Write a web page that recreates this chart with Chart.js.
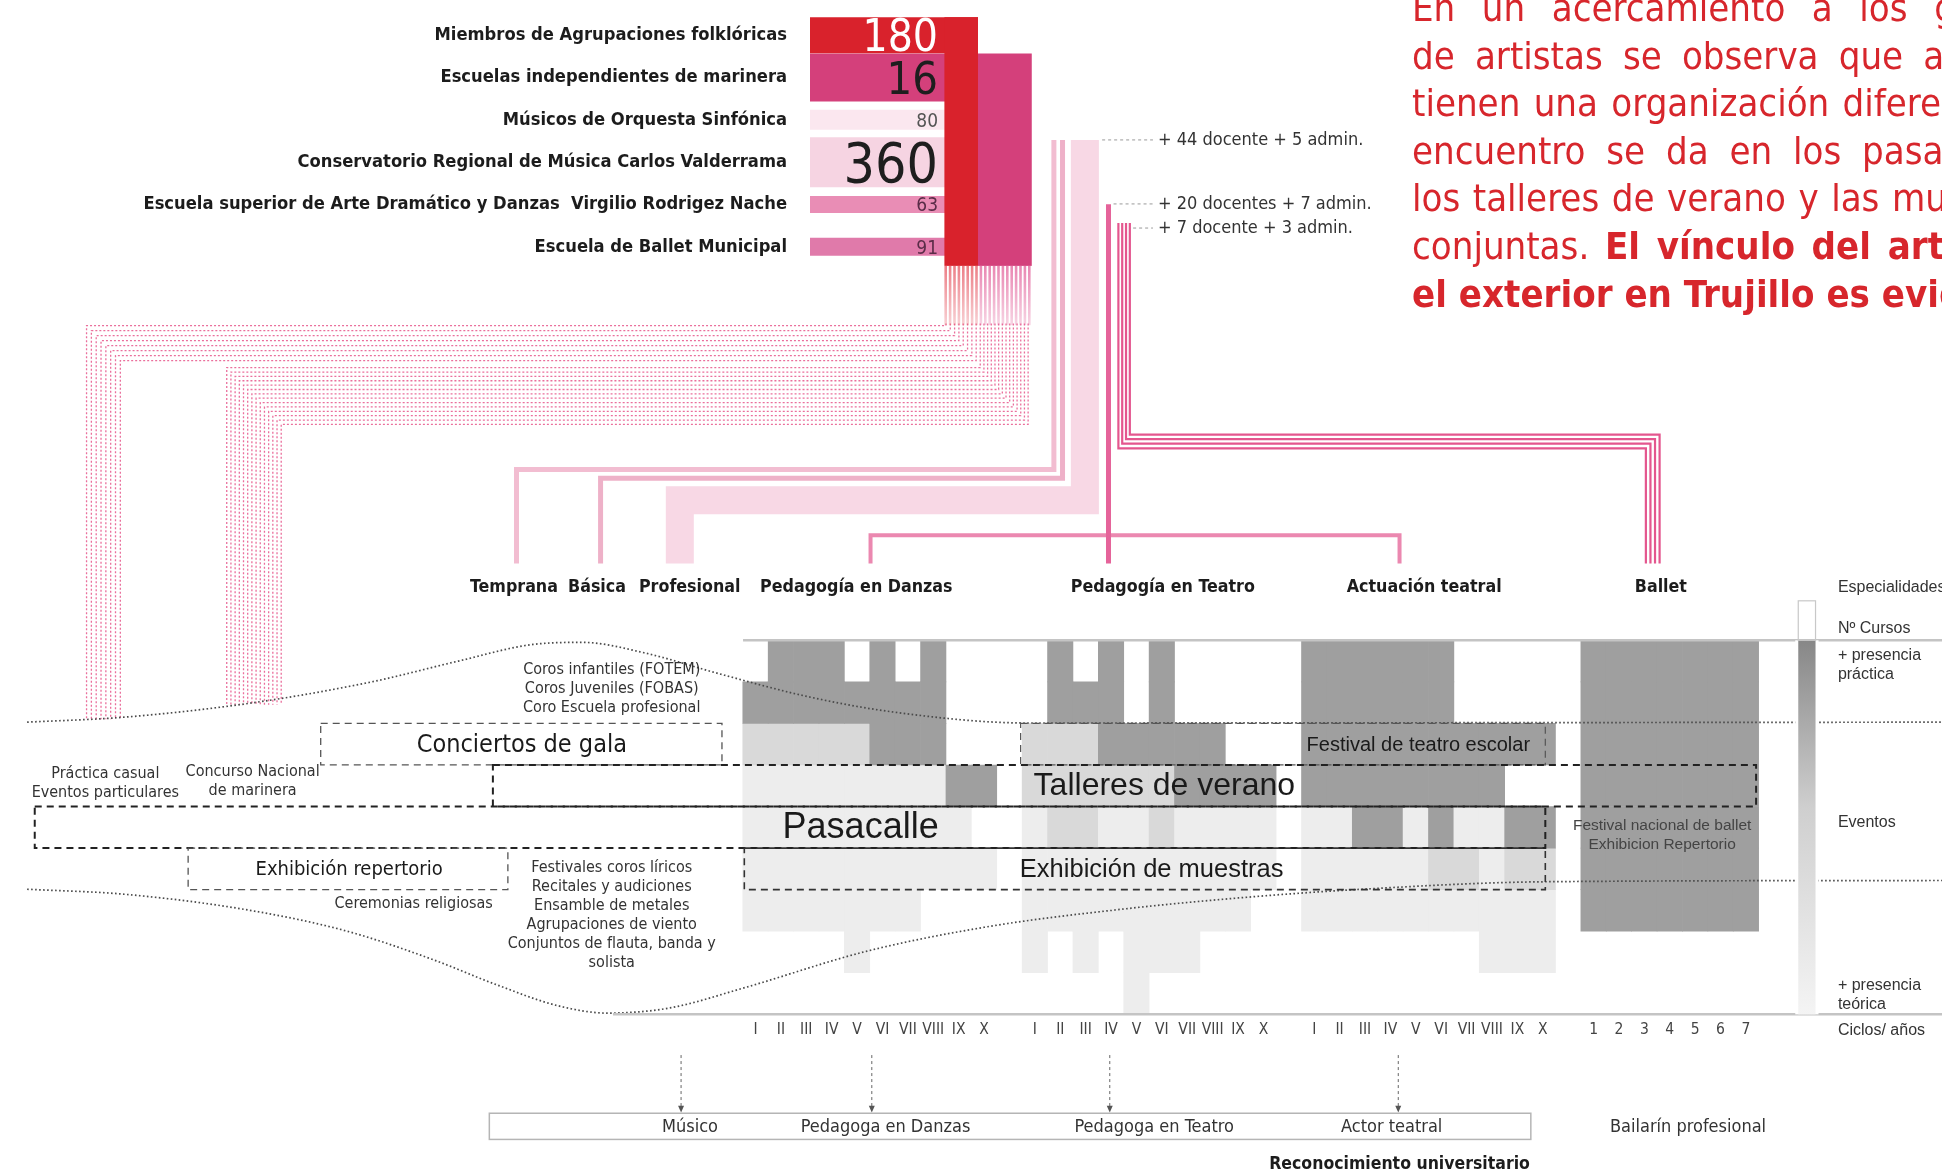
<!DOCTYPE html>
<html lang="es">
<head>
<meta charset="utf-8">
<title>Agrupaciones y formación artística en Trujillo</title>
<script src="https://cdn.jsdelivr.net/npm/chart.js@4.4.1/dist/chart.umd.min.js"></script>
<style>
  html, body { margin: 0; padding: 0; background: #fff; overflow: hidden; }
  #page { position: relative; width: 1942px; height: 1173px; overflow: hidden; background: #fff; }
  #page canvas { position: absolute; left: 0; top: 0; }
  #texto { position: absolute; left: 1412px; top: -15px; font-family: 'Liberation Sans Narrow', 'DejaVu Sans Condensed', sans-serif;
           font-size: 38px; line-height: 47.6px; color: #d7262c; }
  #texto div { white-space: nowrap; width: 640px; text-align: justify; text-align-last: justify; }
  #texto b { font-weight: bold; }
</style>
</head>
<body>
<div id="page">
  <canvas id="matriz" width="1942" height="1173"></canvas>
  <canvas id="tiles" width="1942" height="1173"></canvas>
  <div id="texto">
    <div>En un acercamiento a los grupos</div>
    <div>de artistas se observa que aunque</div>
    <div>tienen una organización diferente, el</div>
    <div>encuentro se da en los pasacalles,</div>
    <div>los talleres de verano y las muestras</div>
    <div>conjuntas. <b>El vínculo del arte con</b></div>
    <div><b>el exterior en Trujillo es evidente.</b></div>
  </div>
</div>
<script>
const NARROW = "'Liberation Sans Narrow', 'DejaVu Sans Condensed', sans-serif";
const SANS = "'Liberation Sans', 'DejaVu Sans', sans-serif";

// ---------- data ----------
const institutions = [
  'Miembros de Agrupaciones folklóricas',
  'Escuelas independientes de marinera',
  'Músicos de Orquesta Sinfónica',
  'Conservatorio Regional de Música Carlos Valderrama',
  'Escuela superior de Arte Dramático y Danzas  Virgilio Rodrigez Nache',
  'Escuela de Ballet Municipal'
];
const members = [180, 16, 80, 360, 63, 91];
const staff = ['+ 44 docente + 5 admin.', '+ 20 docentes + 7 admin.', '+ 7 docente + 3 admin.'];

const conservatorioLevels = ['Temprana', 'Básica', 'Profesional'];
const careers = ['Pedagogía en Danzas', 'Pedagogía en Teatro', 'Actuación teatral', 'Ballet'];
const romanCycles = ['I', 'II', 'III', 'IV', 'V', 'VI', 'VII', 'VIII', 'IX', 'X'];
const balletYears = ['1', '2', '3', '4', '5', '6', '7'];

// presence per row (0 = + presencia práctica ... 8 = + presencia teórica) and cycle
// 0 none, 1 very light, 2 light, 3 dark
const shadeDanzas = [
  [0,3,3,3,0,3,0,3,0,0],
  [3,3,3,3,3,3,3,3,0,0],
  [2,2,2,2,2,3,3,3,0,0],
  [1,1,1,1,1,1,1,1,3,3],
  [1,1,1,1,1,1,1,1,1,0],
  [1,1,1,1,1,1,1,1,1,1],
  [1,1,1,1,1,1,1,0,0,0],
  [0,0,0,0,1,0,0,0,0,0],
  [0,0,0,0,0,0,0,0,0,0]
];
const shadeTeatro = [
  [0,3,0,3,0,3,0,0,0,0],
  [0,3,3,3,0,3,0,0,0,0],
  [2,2,2,3,3,3,3,3,0,0],
  [2,2,2,2,2,2,3,3,3,3],
  [1,2,2,1,1,2,1,1,1,1],
  [1,1,1,1,1,1,1,1,1,1],
  [1,1,1,1,1,1,1,1,1,0],
  [1,0,1,0,1,1,1,0,0,0],
  [0,0,0,0,1,0,0,0,0,0]
];
const shadeActuacion = [
  [3,3,3,3,3,3,0,0,0,0],
  [3,3,3,3,3,3,0,0,0,0],
  [3,3,3,3,3,3,3,3,3,3],
  [3,3,3,3,3,3,3,3,0,0],
  [1,1,3,3,1,3,1,1,3,3],
  [1,1,1,1,1,2,2,1,2,2],
  [1,1,1,1,1,1,1,1,1,1],
  [0,0,0,0,0,0,0,1,1,1],
  [0,0,0,0,0,0,0,0,0,0]
];
const shadeBallet = [
  [3,3,3,3,3,3,3],
  [3,3,3,3,3,3,3],
  [3,3,3,3,3,3,3],
  [3,3,3,3,3,3,3],
  [3,3,3,3,3,3,3],
  [3,3,3,3,3,3,3],
  [3,3,3,3,3,3,3],
  [0,0,0,0,0,0,0],
  [0,0,0,0,0,0,0]
];

const eventNames = ['Conciertos de gala', 'Festival de teatro escolar', 'Talleres de verano',
                    'Pasacalle', 'Exhibición repertorio', 'Exhibición de muestras'];
const folkEvents = ['Práctica casual', 'Eventos particulares'];
const marineraEvents = ['Concurso Nacional', 'de marinera'];
const choirEvents = ['Coros infantiles (FOTEM)', 'Coros Juveniles (FOBAS)', 'Coro Escuela profesional'];
const musicEvents = ['Festivales coros líricos', 'Recitales y audiciones', 'Ensamble de metales',
                     'Agrupaciones de viento', 'Conjuntos de flauta, banda y', 'solista'];
const religiousEvents = ['Ceremonias religiosas'];
const balletEvents = ['Festival nacional de ballet', 'Exhibicion Repertorio'];
const outcomes = ['Músico', 'Pedagoga en Danzas', 'Pedagoga en Teatro', 'Actor teatral', 'Bailarín profesional'];
const axisNotes = [['Especialidades'], ['Nº Cursos'], ['+ presencia', 'práctica'], ['Eventos'], ['+ presencia', 'teórica'], ['Ciclos/ años']];

// envelope of practice/theory presence, [column, row]
const practicaEnvelope = [[-28.68,1.97],[-24.86,1.85],[-19.98,1.52],[-15.11,1.0],[-11.7,0.5],[-8.77,0.1],[-6.82,0.05],
  [-4.39,0.3],[-1.46,0.8],[1.95,1.34],[5.36,1.72],[10.72,1.99],[46.72,1.97]];
const teoricaEnvelope = [[-28.68,5.99],[-24.86,6.11],[-19.98,6.49],[-16.08,7.0],[-12.67,7.69],[-10.23,8.28],[-7.8,8.79],
  [-5.85,8.97],[-3.41,8.85],[-0.49,8.37],[4.39,7.48],[9.26,6.88],[14.14,6.49],[19.01,6.2],[23.88,5.99],[31.1,5.81],[46.72,5.78]];

// ---------- layout / style (column & row units of the matrix scales) ----------
const layout = {
  groupStart: [0, 11, 22, 33],
  shadeColors: [null, '#ededed', '#d9d9d9', '#9f9f9f'],
  careerHeaderK: [3.97, 16.04, 26.33, 35.65],
  levelHeaderK: [-9.51, -6.24, -2.59],
  headerR: -1.28,
  tickR: 9.38,
  eventBoxes: [
    { from: -17.12, to: -1.32, row: 2, labelK: -9.2,  font: '25px ' + NARROW, lw: 1.3, color: '#555' },
    { from: 10.44, to: 31.1, row: 2, labelK: 26.1,   font: '20px ' + SANS, lw: 1.2, color: '#555' },
    { from: -10.34, to: 39.4, row: 3, labelK: 16.1,  font: '32px ' + SANS, lw: 2, color: '#222' },
    { from: -28.38, to: 31.1, row: 4, labelK: 4.14,  font: '36px ' + SANS, lw: 2, color: '#222' },
    { from: -22.34, to: -9.75, row: 5, labelK: -16.0, font: '20px ' + NARROW, lw: 1.3, color: '#555' },
    { from: -0.44, to: 31.1, row: 5, labelK: 15.6,   font: '25.5px ' + SANS, lw: 1.6, color: '#333' }
  ],
  notes: [
    { lines: folkEvents, k: -25.6, r: 3.44 },
    { lines: marineraEvents, k: -19.8, r: 3.40 },
    { lines: choirEvents, k: -5.66, r: 1.18 },
    { lines: musicEvents, k: -5.66, r: 6.63 },
    { lines: religiousEvents, k: -13.46, r: 6.35 },
    { lines: balletEvents, k: 35.7, r: 4.68, font: '15.5px ' + SANS, color: '#444' }
  ],
  axisNoteK: 42.62,
  axisNoteR: [-1.26, -0.27, 0.6, 4.38, 8.53, 9.38],
  legendBar: { from: 41.06, to: 41.74, top: -0.95 },
  arrowsK: [-2.93, 4.58, 13.95, 25.31],
  outcomeK: [-2.58, 5.12, 15.7, 25.05, 36.72],
  outcomeBox: { from: -10.48, to: 30.53, top: 11.38, bottom: 12.01 },
  staffK: 15.85, staffR: [-12.04, -10.5, -9.92], staffFromK: [13.65, 14.1, 14.87],
  flows: [
    { pts: [[12.97,-12.04],[12.97,-3.37],[-2.98,-3.37],[-2.98,-1.85]], width: 28, color: '#f8d8e5' },
    { pts: [[11.75,-12.04],[11.75,-4.11],[-9.41,-4.11],[-9.41,-1.85]], width: 5, color: '#f2bdd1' },
    { pts: [[12.09,-12.04],[12.09,-3.9],[-6.1,-3.9],[-6.1,-1.85]], width: 5, color: '#eeb1c8' },
    { pts: [[4.53,-1.85],[4.53,-2.53],[25.36,-2.53],[25.36,-1.85]], width: 4, color: '#eb88b0' },
    { pts: [[13.9,-10.49],[13.9,-1.85]], width: 5, color: '#e5639a' }
  ],
  bundles: [
    { n: 8,  kRight: 7.5,  kStep: 0.17,  rTop: -7.62, rTurn: -7.57, rStep: 0.12,  kLeft: -26.34, kLeftStep: 0.19,  rBottom: 1.9 },
    { n: 14, kRight: 8.85, kStep: 0.145, rTop: -7.62, rTurn: -6.56, rStep: 0.105, kLeft: -20.82, kLeftStep: 0.165, rBottom: 1.55 }
  ],
  balletBundle: { n: 4, kLeft: 14.29, kStep: 0.15, rTop: -10.04, rTurn: -4.62, rStep: -0.11, kRight: 35.06, kRightStep: 0.18, rBottom: -1.85 }
};

const tileStyle = {
  colors: ['#d9222c', '#d4407b', '#fbe7ef', '#f6d4e2', '#e98db5', '#e07aaa'],
  thickness: [36, 48, 20, 50, 17, 18],
  valueColors: ['#ffffff', '#1e1e1e', '#555555', '#1e1e1e', '#5b2c48', '#5b2c48'],
  valueSize: [44, 45, 19, 55, 19, 19],
  valueAt: 0.762, redFrom: 0.8, magentaTo: 1.32, bandEnd: 5.45, stripeEnd: 6.85
};

// ---------- helpers ----------
function say(ctx, str, x, y, font, color, align) {
  ctx.font = font; ctx.fillStyle = color; ctx.textAlign = align || 'center'; ctx.textBaseline = 'middle';
  ctx.fillText(str, x, y);
}
function sayLines(ctx, arr, x, yc, gap, font, color, align) {
  const y0 = yc - gap * (arr.length - 1) / 2;
  arr.forEach((s, i) => say(ctx, s, x, y0 + i * gap, font, color, align));
}
function poly(ctx, pts) {
  ctx.beginPath();
  pts.forEach(([x, y], i) => i ? ctx.lineTo(x, y) : ctx.moveTo(x, y));
  ctx.stroke();
}

// ---------- matrix chart ----------
const shadeGroups = [shadeDanzas, shadeTeatro, shadeActuacion, shadeBallet];
const cellDatasets = [];
for (let r = 0; r < 9; r++) {
  const pts = [], cols = [];
  shadeGroups.forEach((grid, g) => grid[r].forEach((lvl, c) => {
    if (lvl) { pts.push({ x: layout.groupStart[g] + c, y: [r, r + 1] }); cols.push(layout.shadeColors[lvl]); }
  }));
  cellDatasets.push({ type: 'bar', data: pts, backgroundColor: cols, borderWidth: 0, grouped: false,
                      barPercentage: 1, categoryPercentage: 1, order: 2 });
}
const envelopeStyle = { type: 'line', borderColor: '#4a4a4a', borderWidth: 1.7, borderDash: [1.6, 2.4],
                        pointRadius: 0, cubicInterpolationMode: 'monotone', fill: false, order: 0 };

const decorPlugin = {
  id: 'decor',
  beforeDatasetsDraw(chart) {
    const ctx = chart.ctx;
    const X = v => chart.scales.x.getPixelForValue(v), Y = v => chart.scales.y.getPixelForValue(v);
    ctx.save();
    ctx.lineCap = 'butt'; ctx.lineJoin = 'miter';
    layout.flows.forEach(f => {
      ctx.strokeStyle = f.color; ctx.lineWidth = f.width;
      poly(ctx, f.pts.map(([k, r]) => [X(k), Y(r)]));
    });
    // dotted bundles coming from the folk / marinera bands
    ctx.setLineDash([2, 2]); ctx.lineWidth = 1.3; ctx.strokeStyle = '#ea6f9c';
    layout.bundles.forEach(b => {
      for (let i = 0; i < b.n; i++) {
        const kr = b.kRight + i * b.kStep, rt = b.rTurn + i * b.rStep, kl = b.kLeft + i * b.kLeftStep;
        poly(ctx, [[X(kr), Y(b.rTop)], [X(kr), Y(rt)], [X(kl), Y(rt)], [X(kl), Y(b.rBottom)]]);
      }
    });
    ctx.setLineDash([]);
    // ballet bundle
    const bb = layout.balletBundle;
    ctx.lineWidth = 2.2; ctx.strokeStyle = '#e4568e';
    for (let i = 0; i < bb.n; i++) {
      const kl = bb.kLeft + i * bb.kStep, rt = bb.rTurn + i * bb.rStep, kr = bb.kRight + i * bb.kRightStep;
      poly(ctx, [[X(kl), Y(bb.rTop)], [X(kl), Y(rt)], [X(kr), Y(rt)], [X(kr), Y(bb.rBottom)]]);
    }
    // staff leaders
    ctx.setLineDash([3, 3]); ctx.lineWidth = 1; ctx.strokeStyle = '#999';
    layout.staffR.forEach((r, i) => poly(ctx, [[X(layout.staffFromK[i]), Y(r)], [X(layout.staffK - 0.2), Y(r)]]));
    ctx.setLineDash([]);
    ctx.restore();
  },
  afterDatasetsDraw(chart) {
    const ctx = chart.ctx;
    const xs = chart.scales.x;
    const X = v => xs.getPixelForValue(v), Y = v => chart.scales.y.getPixelForValue(v);
    ctx.save();
    // matrix frame
    ctx.strokeStyle = '#c4c4c4'; ctx.lineWidth = 2.5;
    poly(ctx, [[X(-0.49), Y(0)], [X(xs.max), Y(0)]]);
    poly(ctx, [[X(-5.61), Y(9)], [X(xs.max), Y(9)]]);
    // event boxes
    layout.eventBoxes.forEach((b, i) => {
      ctx.setLineDash([7, 5]); ctx.lineWidth = b.lw; ctx.strokeStyle = b.color;
      ctx.strokeRect(X(b.from), Y(b.row), X(b.to) - X(b.from), Y(b.row + 1) - Y(b.row));
      ctx.setLineDash([]);
      say(ctx, eventNames[i], X(b.labelK), Y(b.row + 0.52), b.font, '#1a1a1a');
    });
    // presence gradient legend
    const lb = layout.legendBar;
    const g = ctx.createLinearGradient(0, Y(0), 0, Y(9));
    g.addColorStop(0, '#878787'); g.addColorStop(0.45, '#cfcfcf'); g.addColorStop(1, '#f4f4f4');
    ctx.fillStyle = '#fff'; ctx.fillRect(X(lb.from) - 3, Y(0), X(lb.to) - X(lb.from) + 6, Y(9) - Y(0));
    ctx.fillStyle = g; ctx.fillRect(X(lb.from), Y(0), X(lb.to) - X(lb.from), Y(9) - Y(0));
    ctx.strokeStyle = '#c8c8c8'; ctx.lineWidth = 1.2;
    ctx.strokeRect(X(lb.from), Y(lb.top), X(lb.to) - X(lb.from), Y(0) - Y(lb.top));
    // small event notes
    layout.notes.forEach(n => sayLines(ctx, n.lines, X(n.k), Y(n.r), 19, n.font || ('16px ' + NARROW), n.color || '#333'));
    // headers
    conservatorioLevels.forEach((s, i) => say(ctx, s, X(layout.levelHeaderK[i]), Y(layout.headerR), 'bold 17.7px ' + NARROW, '#1c1c1c'));
    careers.forEach((s, i) => say(ctx, s, X(layout.careerHeaderK[i]), Y(layout.headerR), 'bold 17.7px ' + NARROW, '#1c1c1c'));
    // cycle ticks
    [romanCycles, romanCycles, romanCycles, balletYears].forEach((labels, gi) =>
      labels.forEach((s, c) => say(ctx, s, X(layout.groupStart[gi] + c), Y(layout.tickR), '15.5px ' + NARROW, '#444')));
    // axis notes (right)
    axisNotes.forEach((l, i) => sayLines(ctx, l, X(layout.axisNoteK), Y(layout.axisNoteR[i]), 19, '16px ' + SANS, '#333', 'left'));
    // staff notes
    staff.forEach((s, i) => say(ctx, s, X(layout.staffK), Y(layout.staffR[i]), '18px ' + NARROW, '#333', 'left'));
    // outcomes
    ctx.setLineDash([3, 3]); ctx.strokeStyle = '#666'; ctx.lineWidth = 1;
    layout.arrowsK.forEach(k => poly(ctx, [[X(k), Y(9.98)], [X(k), Y(11.3)]]));
    ctx.setLineDash([]); ctx.fillStyle = '#555';
    layout.arrowsK.forEach(k => {
      ctx.beginPath(); ctx.moveTo(X(k) - 3, Y(11.2)); ctx.lineTo(X(k) + 3, Y(11.2)); ctx.lineTo(X(k), Y(11.36)); ctx.fill();
    });
    const ob = layout.outcomeBox;
    ctx.strokeStyle = '#b5b5b5'; ctx.lineWidth = 1.5;
    ctx.strokeRect(X(ob.from), Y(ob.top), X(ob.to) - X(ob.from), Y(ob.bottom) - Y(ob.top));
    outcomes.forEach((s, i) => say(ctx, s, X(layout.outcomeK[i]), Y(11.71), '18px ' + NARROW, '#333'));
    say(ctx, 'Reconocimiento universitario', X(25.36), Y(12.61), 'bold 17.5px ' + NARROW, '#1c1c1c');
    ctx.restore();
  }
};

new Chart(document.getElementById('matriz'), {
  type: 'bar',
  data: {
    datasets: [
      ...cellDatasets,
      { ...envelopeStyle, data: practicaEnvelope.map(([x, y]) => ({ x, y })) },
      { ...envelopeStyle, data: teoricaEnvelope.map(([x, y]) => ({ x, y })) }
    ]
  },
  options: {
    responsive: false, animation: false, events: [],
    layout: { padding: 0 },
    plugins: { legend: { display: false }, tooltip: { enabled: false } },
    scales: {
      x: { type: 'linear', display: false, offset: false, bounds: 'data', min: -29.748, max: 46.72 },
      y: { type: 'linear', display: false, reverse: true, bounds: 'data', min: -15.407, max: 12.818 }
    }
  },
  plugins: [decorPlugin]
});

// ---------- institution tiles ----------
const tilePlugin = {
  id: 'tileDecor',
  afterDatasetsDraw(chart) {
    const ctx = chart.ctx, xs = chart.scales.x, ys = chart.scales.y;
    const bar = i => chart.getDatasetMeta(i).data[i];
    const bandBottom = ys.getPixelForValue(tileStyle.bandEnd), stripeBottom = ys.getPixelForValue(tileStyle.stripeEnd);
    const redL = xs.getPixelForValue(tileStyle.redFrom), redR = xs.getPixelForValue(1), magR = xs.getPixelForValue(tileStyle.magentaTo);
    const top0 = bar(0).y - bar(0).height / 2, top1 = bar(1).y - bar(1).height / 2;
    ctx.save();
    ctx.fillStyle = tileStyle.colors[1]; ctx.fillRect(redR, top1, magR - redR, bandBottom - top1);
    ctx.fillStyle = tileStyle.colors[0]; ctx.fillRect(redL, top0, redR - redL, bandBottom - top0);
    for (let px = redL; px < magR - 1; px += 4.4) {
      const c = px < redR ? '228,72,84' : '224,84,146';
      const g = ctx.createLinearGradient(0, bandBottom, 0, stripeBottom);
      g.addColorStop(0, `rgba(${c},0.7)`); g.addColorStop(1, `rgba(${c},0.25)`);
      ctx.fillStyle = g; ctx.fillRect(px, bandBottom, 2.6, stripeBottom - bandBottom);
    }
    members.forEach((v, i) => {
      const el = bar(i), size = tileStyle.valueSize[i];
      ctx.font = size + 'px ' + NARROW; ctx.fillStyle = tileStyle.valueColors[i];
      ctx.textAlign = 'right'; ctx.textBaseline = 'alphabetic';
      ctx.fillText(String(v), xs.getPixelForValue(tileStyle.valueAt), el.y + size * 0.36);
    });
    ctx.restore();
  }
};

new Chart(document.getElementById('tiles'), {
  type: 'bar',
  data: {
    labels: institutions,
    datasets: members.map((v, i) => ({
      label: String(v),
      data: institutions.map((_, j) => (j === i ? [0, 1] : null)),
      backgroundColor: tileStyle.colors[i],
      maxBarThickness: tileStyle.thickness[i],
      grouped: false, barPercentage: 1, categoryPercentage: 1.4, borderWidth: 0
    }))
  },
  options: {
    indexAxis: 'y', responsive: false, animation: false, events: [],
    layout: { padding: { top: 14, right: 964, bottom: 905, left: 0 } },
    plugins: { legend: { display: false }, tooltip: { enabled: false } },
    scales: {
      x: { type: 'linear', display: false, offset: false, bounds: 'data', min: 0, max: 1 },
      y: {
        type: 'category', offset: true,
        grid: { display: false, drawTicks: false }, border: { display: false },
        ticks: { autoSkip: false, padding: 23, color: '#1c1c1c', font: { family: NARROW, size: 18.2, weight: 'bold' } },
        afterFit: s => { s.width = 810; s.paddingTop = 0; s.paddingBottom = 0; }
      }
    }
  },
  plugins: [tilePlugin]
});
</script>
</body>
</html>
